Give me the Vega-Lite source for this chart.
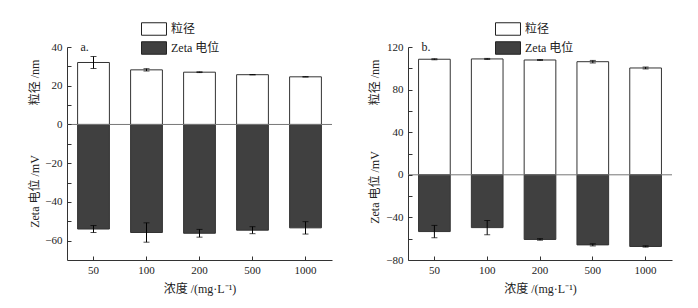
{
  "$schema": "https://vega.github.io/schema/vega-lite/v6.json",
  "background": "white",
  "padding": {"left": 28, "top": 22, "right": 5, "bottom": 5},
  "config": {
    "font": "Liberation Serif, Noto Sans CJK SC",
    "view": {"stroke": null},
    "axis": {
      "labelFont": "Liberation Serif, Noto Sans CJK SC",
      "titleFont": "Liberation Serif, Noto Sans CJK SC",
      "labelFontSize": 11,
      "titleFontSize": 12,
      "titleFontWeight": "normal",
      "labelColor": "#222",
      "titleColor": "#222",
      "domainColor": "#333",
      "tickColor": "#333",
      "tickWidth": 1,
      "grid": false
    },
    "legend": {
      "labelFont": "Liberation Serif, Noto Sans CJK SC",
      "labelFontSize": 12,
      "labelColor": "#222"
    }
  },
  "datasets": {
    "a": [
      {"conc": "50", "series": "粒径", "value": 32.0, "err": 3.1},
      {"conc": "100", "series": "粒径", "value": 28.2, "err": 0.6},
      {"conc": "200", "series": "粒径", "value": 27.0, "err": 0.2},
      {"conc": "500", "series": "粒径", "value": 25.7, "err": 0.1},
      {"conc": "1000", "series": "粒径", "value": 24.6, "err": 0.1},
      {"conc": "50", "series": "Zeta 电位", "value": -54.0, "err": 1.8},
      {"conc": "100", "series": "Zeta 电位", "value": -55.8, "err": 5.0},
      {"conc": "200", "series": "Zeta 电位", "value": -56.2, "err": 2.0},
      {"conc": "500", "series": "Zeta 电位", "value": -54.6, "err": 1.8},
      {"conc": "1000", "series": "Zeta 电位", "value": -53.4, "err": 3.2}
    ],
    "b": [
      {"conc": "50", "series": "粒径", "value": 108.5, "err": 0.5},
      {"conc": "100", "series": "粒径", "value": 108.8, "err": 0.5},
      {"conc": "200", "series": "粒径", "value": 107.8, "err": 0.4},
      {"conc": "500", "series": "粒径", "value": 106.2, "err": 1.2},
      {"conc": "1000", "series": "粒径", "value": 100.3, "err": 0.9},
      {"conc": "50", "series": "Zeta 电位", "value": -53.3, "err": 5.8},
      {"conc": "100", "series": "Zeta 电位", "value": -49.6, "err": 6.7},
      {"conc": "200", "series": "Zeta 电位", "value": -60.7, "err": 0.7},
      {"conc": "500", "series": "Zeta 电位", "value": -65.8, "err": 1.0},
      {"conc": "1000", "series": "Zeta 电位", "value": -67.3, "err": 0.6}
    ]
  },
  "spacing": 76,
  "bounds": "flush",
  "resolve": {"scale": {"fill": "independent"}, "legend": {"fill": "independent"}},
  "hconcat": [
    {
      "width": 265,
      "height": 213,
      "data": {"name": "a"},
      "resolve": {"axis": {"y": "independent", "x": "independent"}},
      "layer": [
        {
          "mark": {"type": "bar", "stroke": "#333", "strokeWidth": 1},
          "encoding": {
            "x": {
              "field": "conc", "type": "ordinal",
              "sort": ["50", "100", "200", "500", "1000"],
              "scale": {"paddingInner": 0.4, "paddingOuter": 0.2},
              "axis": {"title": "浓度 /(mg·L⁻¹)", "labelAngle": 0, "ticks": false, "tickSize": 0, "labelPadding": 4, "titlePadding": 8}
            },
            "y": {
              "field": "value", "type": "quantitative", "stack": null,
              "scale": {"domain": [-70, 40], "nice": false, "zero": false},
              "axis": {
                "values": [-60, -40, -20, 0, 20, 40],
                "ticks": false, "tickSize": 0, "labelPadding": 5,
                "title": "粒径 /nm", "titleX": -33, "titleY": 35, "titleBaseline": "middle", "titleAngle": -90
              }
            },
            "fill": {
              "field": "series", "type": "nominal",
              "scale": {"domain": ["粒径", "Zeta 电位"], "range": ["#ffffff", "#404040"]},
              "legend": {
                "title": null, "orient": "none", "legendX": 80, "legendY": -25, "direction": "vertical",
                "symbolType": "M-2,-1H2V1H-2Z", "symbolSize": 156, "symbolStrokeColor": "#222", "symbolStrokeWidth": 1,
                "labelOffset": 10, "rowPadding": 1, "padding": 0
              }
            }
          }
        },
        {
          "mark": {"type": "errorbar", "color": "black", "ticks": {"size": 6, "color": "black"}, "thickness": 1},
          "encoding": {
            "x": {"field": "conc", "type": "ordinal", "sort": ["50", "100", "200", "500", "1000"], "axis": null},
            "y": {"field": "value", "type": "quantitative", "axis": null},
            "yError": {"field": "err"}
          }
        },
        {
          "data": {"values": [{"k": "a"}]},
          "mark": {"type": "rule", "color": "#777", "strokeWidth": 1},
          "encoding": {
            "y": {
              "datum": 0, "type": "quantitative",
              "axis": {
                "orient": "left", "offset": -4, "labels": false, "ticks": true, "tickSize": 4, "zindex": 1, "domain": false,
                "values": [-60, -50, -40, -30, -20, -10, 0, 10, 20, 30, 40],
                "title": "Zeta 电位 /mV", "titleX": -37, "titleY": 144, "titleBaseline": "middle", "titleAngle": -90
              }
            }
          }
        },
        {
          "data": {"values": [{"k": "a"}]},
          "mark": {"type": "text", "text": "a.", "align": "left", "baseline": "middle", "dx": -13, "dy": 0, "fontSize": 12, "color": "#222"},
          "encoding": {
            "x": {
              "datum": "50", "type": "ordinal",
              "axis": {"orient": "bottom", "offset": -4, "labels": false, "ticks": true, "tickSize": 4, "zindex": 1, "domain": false, "title": null}
            },
            "y": {"datum": 40, "type": "quantitative", "axis": null}
          }
        }
      ]
    },
    {
      "width": 264,
      "height": 213,
      "data": {"name": "b"},
      "resolve": {"axis": {"y": "independent", "x": "independent"}},
      "layer": [
        {
          "mark": {"type": "bar", "stroke": "#333", "strokeWidth": 1},
          "encoding": {
            "x": {
              "field": "conc", "type": "ordinal",
              "sort": ["50", "100", "200", "500", "1000"],
              "scale": {"paddingInner": 0.4, "paddingOuter": 0.2},
              "axis": {"title": "浓度 /(mg·L⁻¹)", "labelAngle": 0, "ticks": false, "tickSize": 0, "labelPadding": 4, "titlePadding": 8}
            },
            "y": {
              "field": "value", "type": "quantitative", "stack": null,
              "scale": {"domain": [-80, 120], "nice": false, "zero": false},
              "axis": {
                "values": [-80, -40, 0, 40, 80, 120],
                "ticks": false, "tickSize": 0, "labelPadding": 5,
                "title": "粒径 /nm", "titleX": -34, "titleY": 35, "titleBaseline": "middle", "titleAngle": -90
              }
            },
            "fill": {
              "field": "series", "type": "nominal",
              "scale": {"domain": ["粒径", "Zeta 电位"], "range": ["#ffffff", "#404040"]},
              "legend": {
                "title": null, "orient": "none", "legendX": 93, "legendY": -25, "direction": "vertical",
                "symbolType": "M-2,-1H2V1H-2Z", "symbolSize": 156, "symbolStrokeColor": "#222", "symbolStrokeWidth": 1,
                "labelOffset": 10, "rowPadding": 1, "padding": 0
              }
            }
          }
        },
        {
          "mark": {"type": "errorbar", "color": "black", "ticks": {"size": 6, "color": "black"}, "thickness": 1},
          "encoding": {
            "x": {"field": "conc", "type": "ordinal", "sort": ["50", "100", "200", "500", "1000"], "axis": null},
            "y": {"field": "value", "type": "quantitative", "axis": null},
            "yError": {"field": "err"}
          }
        },
        {
          "data": {"values": [{"k": "b"}]},
          "mark": {"type": "rule", "color": "#777", "strokeWidth": 1},
          "encoding": {
            "y": {
              "datum": 0, "type": "quantitative",
              "axis": {
                "orient": "left", "offset": -4, "labels": false, "ticks": true, "tickSize": 4, "zindex": 1, "domain": false,
                "values": [-80, -60, -40, -20, 0, 20, 40, 60, 80, 100, 120],
                "title": "Zeta 电位 /mV", "titleX": -38, "titleY": 140, "titleBaseline": "middle", "titleAngle": -90
              }
            }
          }
        },
        {
          "data": {"values": [{"k": "b"}]},
          "mark": {"type": "text", "text": "b.", "align": "left", "baseline": "middle", "dx": -13, "dy": 0, "fontSize": 12, "color": "#222"},
          "encoding": {
            "x": {
              "datum": "50", "type": "ordinal",
              "axis": {"orient": "bottom", "offset": -4, "labels": false, "ticks": true, "tickSize": 4, "zindex": 1, "domain": false, "title": null}
            },
            "y": {"datum": 120, "type": "quantitative", "axis": null}
          }
        }
      ]
    }
  ]
}
